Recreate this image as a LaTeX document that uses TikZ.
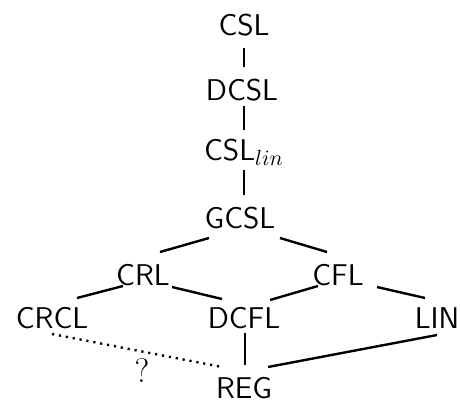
\documentclass[tikz,border=0pt]{standalone}
\usetikzlibrary{calc}
\begin{document}
\begin{tikzpicture}[x=0.5pt,y=-0.5pt,
  cls/.style={anchor=base,inner sep=0pt,font=\fontsize{15}{18}\selectfont\sffamily},
  edge/.style={line width=1.2pt},
  open/.style={line width=1.2pt,dash pattern=on 1.1pt off 2.4pt}]
\useasboundingbox (0,0) rectangle (460,402);
% class names, placed on their baselines
\node[cls] (CSL)  at (244,35)  {CSL};
\node[cls] (DCSL) at (242,100) {DCSL};
\node[cls] (LCSL) at (244,160) {CSL$_{lin}$};
\node[cls] (GCSL) at (240,228) {GCSL};
\node[cls] (CRL)  at (143,285) {CRL};
\node[cls] (CFL)  at (338,285) {CFL};
\node[cls] (CRCL) at (52,328)  {CRCL};
\node[cls] (DCFL) at (244,328) {DCFL};
\node[cls] (LIN)  at (437,328) {LIN};
\node[cls] (REG)  at (244,398) {REG};
\node[anchor=base,inner sep=0pt,font=\fontsize{17}{20}\selectfont] (q) at (142,382) {?};
% inclusions
\draw[edge] ($(CSL.base)+(0,13)$)   -- ($(DCSL.base)+(2,-33)$);
\draw[edge] ($(DCSL.base)+(2,6)$)   -- ($(LCSL.base)+(0,-30)$);
\draw[edge] ($(LCSL.base)+(0,10)$)  -- ($(GCSL.base)+(4,-33)$);
\draw[edge] ($(GCSL.base)+(-31,10)$) -- ($(CRL.base)+(17,-33)$);
\draw[edge] ($(GCSL.base)+(40,10)$) -- ($(CFL.base)+(-11,-33)$);
\draw[edge] ($(CRL.base)+(-20,1)$)  -- ($(CRCL.base)+(25,-30)$);
\draw[edge] ($(CRL.base)+(29,2)$)   -- ($(DCFL.base)+(-22,-29)$);
\draw[edge] ($(CFL.base)+(-20,1)$)  -- ($(DCFL.base)+(26,-28)$);
\draw[edge] ($(CFL.base)+(39,2)$)   -- ($(LIN.base)+(-12,-30)$);
\draw[edge] ($(DCFL.base)+(1,5)$)   -- ($(REG.base)+(1,-33)$);
\draw[edge] ($(LIN.base)+(0,7)$)    -- ($(REG.base)+(24,-31)$);
% open question
\draw[open] ($(CRCL.base)+(0,6)$)   -- ($(REG.base)+(-22,-31)$);
\end{tikzpicture}
\end{document}
